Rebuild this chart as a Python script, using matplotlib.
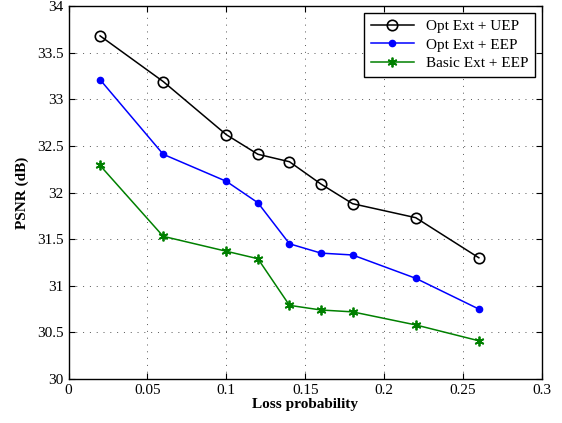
import matplotlib.pyplot as plt
import numpy as np

plt.rcParams['font.family'] = ['Liberation Serif', 'DejaVu Serif']

loss = [0.02, 0.06, 0.10, 0.12, 0.14, 0.16, 0.18, 0.22, 0.26]
opt_uep = [33.68, 33.19, 32.62, 32.41, 32.33, 32.09, 31.88, 31.73, 31.30]
opt_eep = [33.21, 32.41, 32.12, 31.89, 31.45, 31.35, 31.33, 31.08, 30.75]
basic_eep = [32.29, 31.53, 31.37, 31.29, 30.79, 30.74, 30.72, 30.58, 30.41]

xticks = [0, 0.05, 0.1, 0.15, 0.2, 0.25, 0.3]
xticklabels = ['0', '0.05', '0.1', '0.15', '0.2', '0.25', '0.3']
yticks = [30, 30.5, 31, 31.5, 32, 32.5, 33, 33.5, 34]
yticklabels = ['30', '30.5', '31', '31.5', '32', '32.5', '33', '33.5', '34']

fig = plt.figure(figsize=(5.62, 4.23), dpi=100)
ax = fig.add_axes([0.1219, 0.104, 0.8425, 0.8818])

ax.plot(loss, opt_uep, '-o', color='black', mfc='none', mec='black',
        markersize=7.5, mew=1.2, lw=1.1, label='Opt Ext + UEP')
ax.plot(loss, opt_eep, '-o', color='blue', markersize=4.5, lw=1.1,
        label='Opt Ext + EEP')
# MATLAB-style asterisk marker
ax.plot(loss, basic_eep, '-', marker=(6, 2, 0), color='#008000',
        markersize=7, mew=1.3, lw=1.1, label='Basic Ext + EEP')

ax.set_xlim(0, 0.3)
ax.set_ylim(30, 34)
ax.set_xticks(xticks)
ax.set_xticklabels(xticklabels)
ax.set_yticks(yticks)
ax.set_yticklabels(yticklabels)
ax.tick_params(direction='in', top=True, right=True, labelsize=11, length=4)
ax.grid(True, linestyle=(0, (1, 6)), color='#555555', lw=0.7)
for s in ax.spines.values():
    s.set_linewidth(1.0)

ax.set_xlabel('Loss probability', fontsize=11, fontweight='bold', labelpad=1)
ax.set_ylabel('PSNR (dB)', fontsize=11, fontweight='bold', labelpad=6)

leg = ax.legend(loc='upper right', fontsize=11, handlelength=2.8,
                fancybox=False, framealpha=1, edgecolor='black',
                borderpad=0.45, labelspacing=0.3, borderaxespad=0.45)
leg.get_frame().set_linewidth(1.0)

fig.savefig('out.png', dpi=100)
